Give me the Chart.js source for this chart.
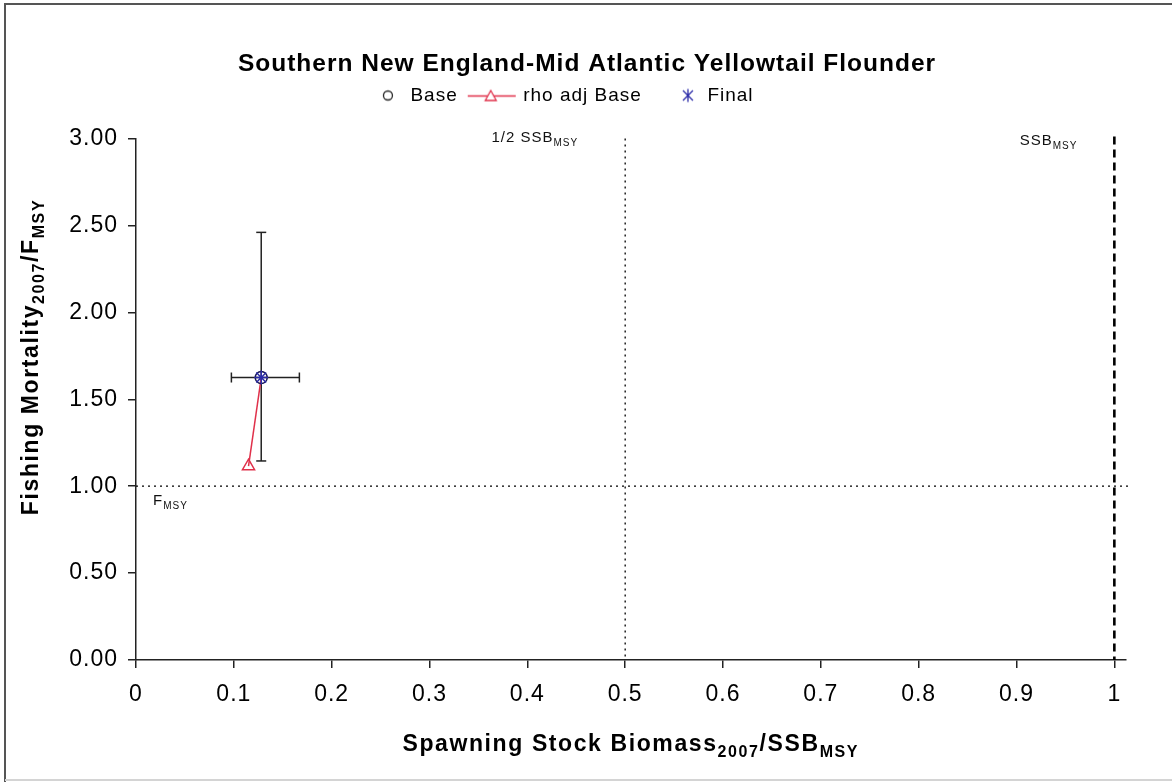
<!DOCTYPE html>
<html>
<head>
<meta charset="utf-8">
<title>SNE-MA Yellowtail Flounder status</title>
<script src="https://cdn.jsdelivr.net/npm/chart.js@4.4.1/dist/chart.umd.min.js"></script>
<style>
  html, body { margin: 0; padding: 0; background: #fff; }
  #wrap { width: 1172px; height: 782px; }
</style>
</head>
<body>
<div id="wrap"><canvas id="kobe" width="1172" height="782"></canvas></div>
<script>
// Stock status 2007: SSB/SSBmsy (x) vs F/Fmsy (y)
const seriesNames = ['Base', 'rho adj Base', 'Final'];
const baseX = [0.128];
const baseY = [1.625];
const rhoX = [0.128, 0.115];
const rhoY = [1.625, 1.115];
const finalX = [0.128];
const finalY = [1.625];

// confidence interval around the final point
const ciX = [0.0975, 0.167];
const ciY = [1.145, 2.46];

// reference points: 1/2 SSBmsy, SSBmsy, Fmsy
const refX = [0.5, 1];
const refY = [1];

const xTicks = [0, 0.1, 0.2, 0.3, 0.4, 0.5, 0.6, 0.7, 0.8, 0.9, 1];
const xTickLabels = ['0', '0.1', '0.2', '0.3', '0.4', '0.5', '0.6', '0.7', '0.8', '0.9', '1'];
const yTicks = [0, 0.5, 1, 1.5, 2, 2.5, 3];
const yTickLabels = ['0.00', '0.50', '1.00', '1.50', '2.00', '2.50', '3.00'];

const FONT = 'Arial, "Liberation Sans", sans-serif';
const RED = '#e0304a';
const BLUE = '#2b2ba8';
const INK = '#222';
const PAD_LEFT = 48.4;   // keeps the title centred where the original has it

function toPoints(xs, ys) {
  return xs.map((x, i) => ({ x: x, y: ys[i] }));
}

// small canvases used as legend symbols
function legendIcon(kind) {
  const c = document.createElement('canvas');
  c.width = kind === 'line' ? 56 : 46;
  c.height = 16;
  const g = c.getContext('2d');
  g.lineWidth = 1.3;
  if (kind === 'circle') {
    g.strokeStyle = INK;
    g.beginPath();
    g.arc(33, 8, 4.5, 0, Math.PI * 2);
    g.stroke();
  } else if (kind === 'line') {
    g.strokeStyle = RED;
    g.beginPath();
    g.moveTo(5, 8.5);
    g.lineTo(53, 8.5);
    g.stroke();
    g.fillStyle = '#fff';
    g.beginPath();
    g.moveTo(28, 3);
    g.lineTo(33.5, 13);
    g.lineTo(22.5, 13);
    g.closePath();
    g.fill();
    g.stroke();
  } else if (kind === 'star') {
    g.strokeStyle = BLUE;
    g.beginPath();
    g.moveTo(36, 1.5); g.lineTo(36, 14.5);
    g.moveTo(31, 3); g.lineTo(41, 13);
    g.moveTo(41, 3); g.lineTo(31, 13);
    g.stroke();
  }
  return c;
}
const icons = [legendIcon('circle'), legendIcon('line'), legendIcon('star')];
const blankIcon = legendIcon('none');

// text with subscripts; parts = [[text, isSub], ...]
function drawRich(ctx, parts, x, y, align, size, bold, spacing) {
  const main = (bold ? 'bold ' : '') + size + 'px ' + FONT;
  const sub = (bold ? 'bold ' : '') + Math.round(size * 0.68) + 'px ' + FONT;
  ctx.letterSpacing = spacing + 'px';
  let total = 0;
  const widths = parts.map(p => {
    ctx.font = p[1] ? sub : main;
    const w = ctx.measureText(p[0]).width;
    total += w;
    return w;
  });
  let cx = align === 'center' ? x - total / 2 : align === 'right' ? x - total : x;
  ctx.textAlign = 'left';
  ctx.textBaseline = 'alphabetic';
  parts.forEach((p, i) => {
    ctx.font = p[1] ? sub : main;
    ctx.fillText(p[0], cx, p[1] ? y + size * 0.28 : y);
    cx += widths[i];
  });
}

function strokeLine(ctx, x1, y1, x2, y2) {
  ctx.beginPath();
  ctx.moveTo(x1, y1);
  ctx.lineTo(x2, y2);
  ctx.stroke();
}

const decor = {
  id: 'decor',
  beforeLayout(chart) {
    chart.ctx.letterSpacing = '1px';
  },
  beforeDraw(chart) {
    const ctx = chart.ctx;
    ctx.letterSpacing = '1px';
    ctx.save();
    ctx.fillStyle = '#fff';
    ctx.fillRect(0, 0, chart.width, chart.height);
    ctx.lineWidth = 2;
    ctx.strokeStyle = '#555';
    ctx.beginPath();
    ctx.moveTo(5, 782); ctx.lineTo(5, 4); ctx.lineTo(1172, 4);
    ctx.stroke();
    ctx.strokeStyle = '#d4d4d4';
    strokeLine(ctx, 5, 780, 1172, 780);
    ctx.restore();
  },
  beforeDatasetsDraw(chart) {
    const { ctx, chartArea: a, scales: { x, y } } = chart;
    ctx.save();
    ctx.strokeStyle = '#000';

    // 1/2 SSBmsy and Fmsy, dotted
    ctx.lineWidth = 1.3;
    ctx.setLineDash([2, 4]);
    const xHalf = x.getPixelForValue(refX[0]);
    strokeLine(ctx, xHalf, a.top, xHalf, a.bottom);
    const yF = y.getPixelForValue(refY[0]);
    strokeLine(ctx, a.left, yF, a.right + 3, yF);

    // SSBmsy, dashed
    ctx.lineWidth = 2.6;
    ctx.setLineDash([8, 5]);
    const xMsy = x.getPixelForValue(refX[1]);
    strokeLine(ctx, xMsy, a.top - 2, xMsy, a.bottom);

    // error bars
    ctx.setLineDash([]);
    ctx.strokeStyle = INK;
    ctx.lineWidth = 1.5;
    const px = x.getPixelForValue(finalX[0]);
    const py = y.getPixelForValue(finalY[0]);
    const l = x.getPixelForValue(ciX[0]), r = x.getPixelForValue(ciX[1]);
    const t = y.getPixelForValue(ciY[1]), b = y.getPixelForValue(ciY[0]);
    strokeLine(ctx, l, py, r, py);
    strokeLine(ctx, l, py - 5, l, py + 5);
    strokeLine(ctx, r, py - 5, r, py + 5);
    strokeLine(ctx, px, t, px, b);
    strokeLine(ctx, px - 5, t, px + 5, t);
    strokeLine(ctx, px - 5, b, px + 5, b);
    ctx.restore();
  },
  afterDraw(chart) {
    const { ctx, chartArea: a, scales: { x, y } } = chart;
    ctx.save();
    ctx.fillStyle = '#111';

    // reference line labels
    drawRich(ctx, [['1/2 SSB', false], ['MSY', true]], x.getPixelForValue(refX[0]) - 47, 142, 'right', 15, false, 1);
    drawRich(ctx, [['SSB', false], ['MSY', true]], x.getPixelForValue(refX[1]) - 37, 145, 'right', 15, false, 1);
    drawRich(ctx, [['F', false], ['MSY', true]], a.left + 17, y.getPixelForValue(refY[0]) + 19, 'left', 15, false, 1);

    // axis titles
    ctx.fillStyle = '#000';
    drawRich(ctx, [['Spawning Stock Biomass', false], ['2007', true], ['/SSB', false], ['MSY', true]],
      (a.left + a.right) / 2, 751, 'center', 23, true, 1.6);
    ctx.translate(38, 357);
    ctx.rotate(-Math.PI / 2);
    drawRich(ctx, [['Fishing Mortality', false], ['2007', true], ['/F', false], ['MSY', true]],
      0, 0, 'center', 23, true, 1.6);
    ctx.restore();
  }
};

const axisCommon = {
  grid: { display: true, drawOnChartArea: false, drawTicks: true, tickLength: 8, color: INK, lineWidth: 1.5 },
  border: { display: true, color: INK, width: 1.5 }
};

new Chart(document.getElementById('kobe'), {
  type: 'scatter',
  data: {
    datasets: [
      {
        label: seriesNames[0],
        data: toPoints(baseX, baseY),
        pointStyle: 'circle',
        pointRadius: 6,
        pointBorderWidth: 1.5,
        borderColor: '#1b1b55',
        backgroundColor: 'rgba(0,0,0,0)',
        order: 2
      },
      {
        label: seriesNames[1],
        data: toPoints(rhoX, rhoY),
        showLine: true,
        borderColor: RED,
        borderWidth: 1.5,
        pointStyle: 'triangle',
        pointRadius: [0, 7],
        pointBorderWidth: 1.5,
        backgroundColor: 'rgba(255,255,255,0)',
        order: 3
      },
      {
        label: seriesNames[2],
        data: toPoints(finalX, finalY),
        pointStyle: 'star',
        pointRadius: 7,
        pointBorderWidth: 1.5,
        borderColor: BLUE,
        backgroundColor: BLUE,
        order: 1
      }
    ]
  },
  options: {
    responsive: false,
    animation: false,
    devicePixelRatio: 1,
    layout: { padding: { left: PAD_LEFT, right: 46.4, top: 0, bottom: 0 } },
    plugins: {
      title: {
        display: true,
        text: 'Southern New England-Mid Atlantic Yellowtail Flounder',
        color: '#000',
        font: { family: FONT, size: 24.5, weight: 'bold', lineHeight: 1 },
        padding: { top: 51.5, bottom: 0 }
      },
      legend: {
        display: true,
        position: 'top',
        labels: {
          usePointStyle: true,
          pointStyleWidth: 46,
          padding: 10,
          color: '#000',
          font: { family: FONT, size: 19 },
          // last entry is an empty spacer that pulls the legend a little left
          generateLabels: (chart) => seriesNames.map((name, i) => ({
            text: name,
            pointStyle: icons[i],
            datasetIndex: i,
            fontColor: '#000',
            lineWidth: 0,
            strokeStyle: 'rgba(0,0,0,0)',
            fillStyle: 'rgba(0,0,0,0)'
          })).concat([{
            text: '',
            pointStyle: blankIcon,
            fontColor: '#000',
            lineWidth: 0,
            strokeStyle: 'rgba(0,0,0,0)',
            fillStyle: 'rgba(0,0,0,0)'
          }])
        }
      },
      tooltip: { enabled: false }
    },
    scales: {
      x: Object.assign({}, axisCommon, {
        type: 'linear',
        min: 0,
        max: 1.0115,
        afterBuildTicks: (s) => { s.ticks = xTicks.map(v => ({ value: v })); },
        afterFit: (s) => { s.height = 122; },
        ticks: {
          padding: 13,
          color: '#000',
          maxRotation: 0,
          font: { family: FONT, size: 23 },
          callback: (v, i) => xTickLabels[i]
        }
      }),
      gap: {
        // empty box that leaves room between the legend and the plot
        type: 'linear',
        position: 'top',
        display: true,
        grid: { display: false },
        border: { display: false },
        ticks: { display: false },
        afterFit: (s) => { s.height = 23.5; }
      },
      y: Object.assign({}, axisCommon, {
        type: 'linear',
        min: 0,
        max: 3,
        afterBuildTicks: (s) => { s.ticks = yTicks.map(v => ({ value: v })); },
        afterFit: (s) => { s.width = 136 - PAD_LEFT; },
        ticks: {
          padding: 10,
          color: '#000',
          font: { family: FONT, size: 23 },
          callback: (v, i) => yTickLabels[i]
        }
      })
    }
  },
  plugins: [decor]
});
</script>
</body>
</html>
